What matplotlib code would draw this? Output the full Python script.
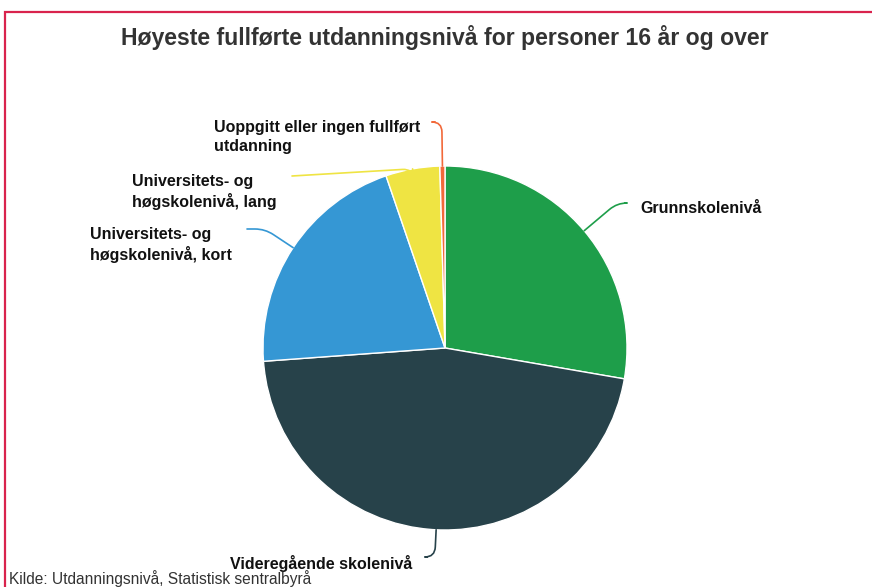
import matplotlib

matplotlib.use("Agg")

import matplotlib.pyplot as plt
import numpy as np
from matplotlib.patches import Rectangle

plt.rcParams["font.family"] = ["Liberation Sans", "DejaVu Sans"]

TITLE = "Høyeste fullførte utdanningsnivå for personer 16 år og over"
SOURCE = "Kilde: Utdanningsnivå, Statistisk sentralbyrå"

LABELS = [
    "Grunnskolenivå",
    "Videregående skolenivå",
    "Universitets- og\nhøgskolenivå, kort",
    "Universitets- og\nhøgskolenivå, lang",
    "Uoppgitt eller ingen fullført\nutdanning",
]
SHARES = [27.7, 46.1, 20.9, 4.8, 0.45]
COLORS = ["#1e9e4a", "#27424a", "#3597d4", "#efe443", "#f2693a"]

W, H = 872, 587
CENTER = (445, 348)
RADIUS = 182

# where each label's connector ends (pixels, y from top) and which side the text sits
LABEL_ANCHORS = [(625, 203, "left"), (427, 557, "right"), (247, 229, "right"),
                 (292, 176, "right"), (435, 122, "right")]


def flip(x, y):
    return x, H - y


def main():
    fig = plt.figure(figsize=(W / 100, H / 100), dpi=100)
    ax = fig.add_axes([0, 0, 1, 1])

    wedges, _ = ax.pie(
        SHARES,
        colors=COLORS,
        startangle=90,
        counterclock=False,
        center=flip(*CENTER),
        radius=RADIUS,
        wedgeprops=dict(edgecolor="white", linewidth=1),
    )
    ax.set_xlim(0, W)
    ax.set_ylim(0, H)
    ax.set_aspect("equal")
    ax.axis("off")

    cx, cy = flip(*CENTER)
    for wedge, label, color, (tx, ty, side) in zip(wedges, LABELS, COLORS, LABEL_ANCHORS):
        mid = np.deg2rad((wedge.theta1 + wedge.theta2) / 2)
        edge = (cx + RADIUS * np.cos(mid), cy + RADIUS * np.sin(mid))
        anchor = flip(tx, ty)
        if "lang" in label:
            angle_a = np.degrees(np.arctan2(edge[1] - anchor[1], edge[0] - anchor[0]))
        else:
            angle_a = 0
        ax.annotate(
            "",
            xy=edge,
            xytext=anchor,
            arrowprops=dict(
                arrowstyle="-",
                color=color,
                lw=1.2,
                shrinkA=0,
                shrinkB=0,
                connectionstyle=f"angle,angleA={angle_a:.1f},angleB={np.degrees(mid):.1f},rad=10",
            ),
        )
        offset = 15 if side == "left" else -15
        ax.text(
            anchor[0] + offset,
            anchor[1] + 2,
            label,
            ha=side,
            va="top",
            multialignment="left",
            fontsize=11.5,
            fontweight="bold",
            color="#111111",
            linespacing=1.3,
        )

    fig.text(445 / W, 1 - 37 / H, TITLE, ha="center", va="center",
             fontsize=16.6, fontweight="bold", color="#333333")
    fig.text(9 / W, 1 - 578.5 / H, SOURCE, ha="left", va="center",
             fontsize=11.2, color="#333333")

    fig.patches.append(Rectangle((5 / W, -0.05), 1.1, 1 - 12 / H + 0.05,
                                 transform=fig.transFigure, fill=False,
                                 edgecolor="#d9234d", linewidth=1.6))

    fig.savefig("out.png", dpi=100)
    plt.close(fig)


if __name__ == "__main__":
    main()
